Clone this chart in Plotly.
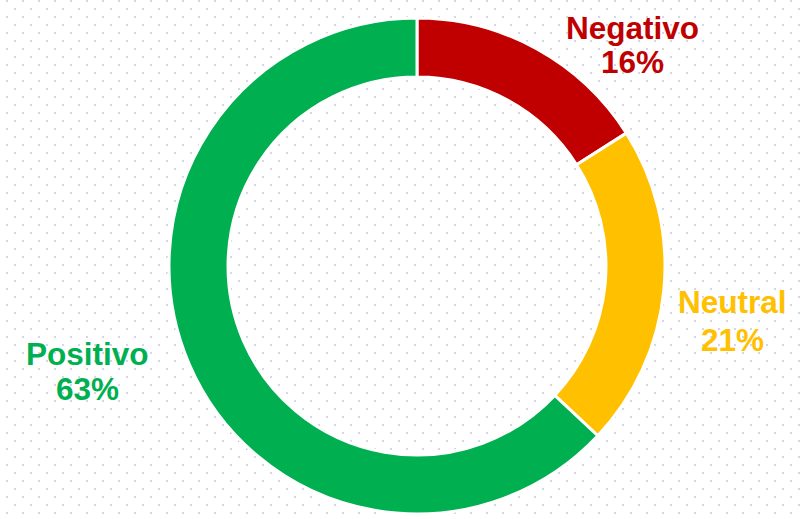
import urllib.parse
import plotly.graph_objects as go

categories = ["Negativo", "Neutral", "Positivo"]
values = [16, 21, 63]
colors = ["#C00000", "#FFC000", "#00B050"]
# pixel centers of the outside labels: (x, name line y, percent line y)
label_pos = [(632, 28, 62.5), (732, 301.5, 339.5), (87.5, 353.5, 388.5)]

W, H = 806, 519

svg = ("<svg xmlns='http://www.w3.org/2000/svg' width='806' height='519'>"
       "<defs><pattern id='p' width='16' height='16' patternUnits='userSpaceOnUse'>"
       "<rect x='6' y='0' width='2' height='2' fill='#d6d6e6'/>"
       "<rect x='14' y='8' width='2' height='2' fill='#d6d6e6'/>"
       "</pattern></defs><rect width='806' height='519' fill='url(#p)'/></svg>")
src = "data:image/svg+xml;charset=utf-8," + urllib.parse.quote(svg)

fig = go.Figure(go.Pie(
    labels=categories, values=values, sort=False, direction="clockwise", rotation=0,
    hole=0.762, marker=dict(colors=colors, line=dict(color="white", width=3)),
    textinfo="none", hoverinfo="label+percent", showlegend=False,
    domain=dict(x=[169 / W, 665 / W], y=[1 - 514 / H, 1 - 18 / H]),
))

total = sum(values)
font_family = "Liberation Sans, Arial, sans-serif"
for cat, v, c, (px, py1, py2) in zip(categories, values, colors, label_pos):
    for txt, py in ((cat, py1), (f"{round(100 * v / total)}%", py2)):
        fig.add_annotation(
            x=px / W, y=1 - py / H, xref="paper", yref="paper",
            text=f"<b>{txt}</b>", showarrow=False,
            font=dict(family=font_family, size=31.5, color=c),
            xanchor="center", yanchor="middle",
        )

fig.add_layout_image(dict(source=src, xref="paper", yref="paper", x=0, y=1,
                          sizex=1, sizey=1, xanchor="left", yanchor="top",
                          sizing="stretch", layer="below"))

fig.update_layout(width=W, height=H, margin=dict(l=0, r=0, t=0, b=0),
                  paper_bgcolor="white", plot_bgcolor="white")
fig.write_html("out.html", config={"displayModeBar": False},
               post_script="document.body.style.margin='0';document.body.style.overflow='hidden';")
